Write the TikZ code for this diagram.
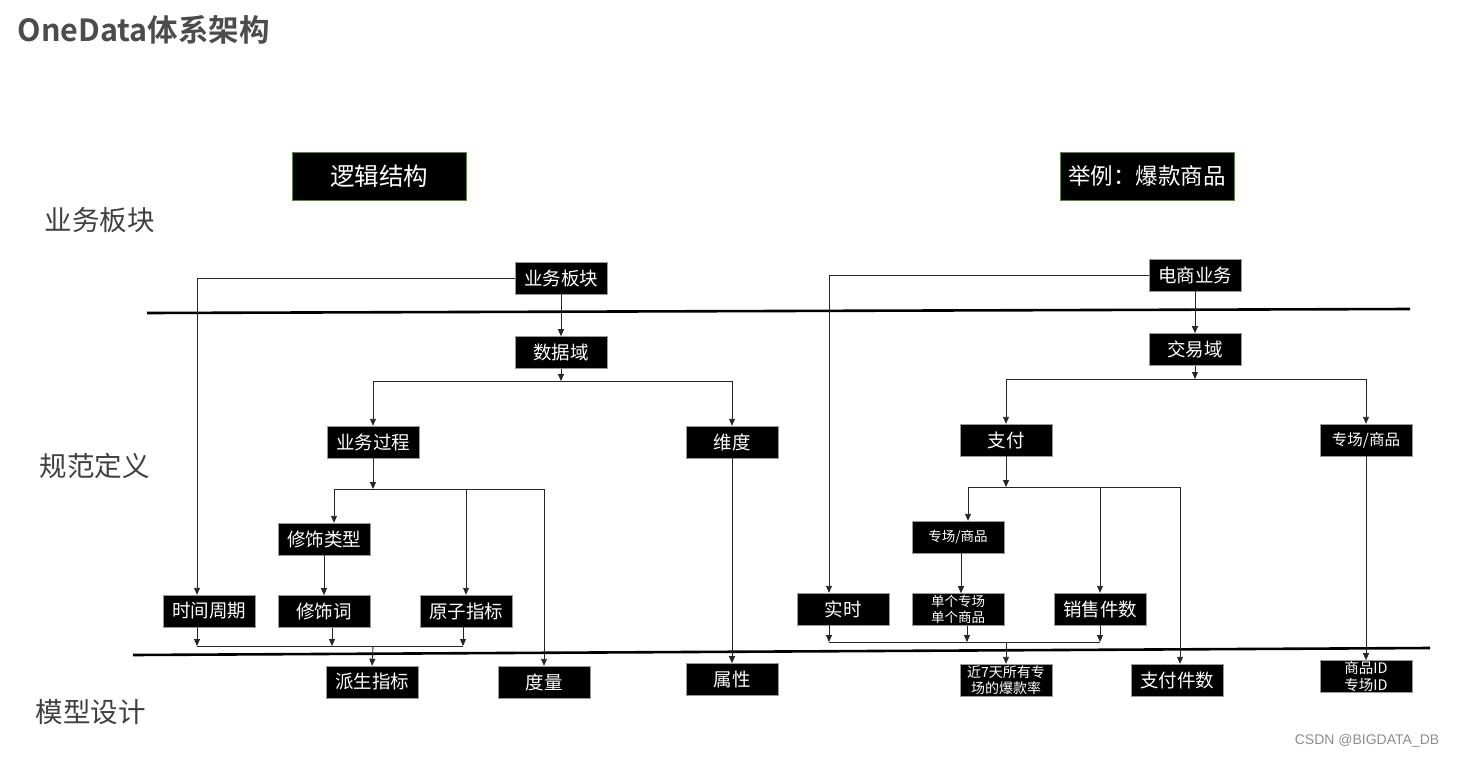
\documentclass[tikz,border=0pt]{standalone}
\usepackage{fontspec}
\setmainfont{Noto Sans CJK SC}[BoldFont={Noto Sans CJK SC Bold}]
\newfontfamily\latinsans{Liberation Sans}
\usepackage{tikz}
\usetikzlibrary{arrows.meta, positioning}
\definecolor{hdrgreen}{RGB}{95,135,60}

\begin{document}
\begin{tikzpicture}[x=1pt, y=-1pt,
    box/.style={fill=black, draw=black!40, text=white, minimum width=92pt, minimum height=32pt, inner sep=0pt, font=\fontsize{18.5}{20}\selectfont},
    small/.style={font=\fontsize{13.5}{15.5}\selectfont, align=center},
    hdr/.style={fill=black, draw=hdrgreen, line width=1pt, text=white, minimum width=174pt, minimum height=48pt, inner sep=0pt, font=\fontsize{22.5}{24}\selectfont},
    layer/.style={text=black!75, font=\fontsize{27.5}{29}\selectfont, anchor=west},
    divider/.style={line width=2.6pt},
    wire/.style={draw=black!85, line width=0.9pt},
    arr/.style={wire, -{Triangle[length=7pt,width=6pt]}}
]
\useasboundingbox (0,0) rectangle (1457,758);

% titles
\node[anchor=west, text=black!70, font=\bfseries\fontsize{30.5}{32}\selectfont] (title) at (14,30) {OneData体系架构};
\node[hdr, font=\fontsize{24.5}{26}\selectfont] (logic) at (379,176) {逻辑结构};
\node[hdr] (demo) at (1147,176) {举例：爆款商品};

\node[layer] (l1) at (41,220) {业务板块};
\node[layer] (l2) at (36,466) {规范定义};
\node[layer] (l3) at (32,712) {模型设计};

% layer dividers
\draw[divider] (147,313) -- (1410,309);
\draw[divider] (133,655) -- (1430,648);

% logical structure
\node[box] (ywbk) at (561,278) {业务板块};
\node[box] (sjy) [below=42pt of ywbk] {数据域};
\node[box] (ywgc) at (373,442) {业务过程};
\node[box] (wd) at (732,442) {维度};
\node[box] (xslx) at (324,539) {修饰类型};
\node[box] (sjzq) at (209,611) {时间周期};
\node[box] (xsc) [below=40pt of xslx] {修饰词};
\node[box] (yzzb) at (466,611) {原子指标};
\node[box] (pszb) at (372,682) {派生指标};
\node[box] (dl) at (544,682) {度量};
\node[box] (sx) [below=205pt of wd] {属性};

\coordinate (j1) at (561,381);
\coordinate (j2) at (373,489);
\coordinate (j3) at (373,646);

\draw[arr] (ywbk.west) -| ([xshift=-12pt]sjzq.north);
\draw[arr] (ywbk) -- (sjy);
\draw[arr] (sjy) -- (j1);
\draw[arr] (j1) -| (ywgc.north);
\draw[arr] (j1) -| (wd.north);
\draw[arr] (ywgc) -- (j2);
\draw[arr] (j2) -| ([xshift=10pt]xslx.north);
\draw[arr] (j2) -| (yzzb.north);
\draw[arr] (j2) -| (dl.north);
\draw[arr] (xslx) -- (xsc);
\draw[arr] (wd) -- (sx);
\draw[arr] ([xshift=-12pt]sjzq.south) -- ([xshift=-12pt]sjzq.south |- j3);
\draw[arr] ([xshift=8pt]xsc.south) -- ([xshift=8pt]xsc.south |- j3);
\draw[arr] ([xshift=-3pt]yzzb.south) -- ([xshift=-3pt]yzzb.south |- j3);
\draw[wire] ([xshift=-12pt]sjzq.south |- j3) -- ([xshift=-3pt]yzzb.south |- j3);
\draw[arr] (j3) -- (pszb.north);

% example
\node[box] (dsyw) at (1195,275) {电商业务};
\node[box] (jyy) [below=42pt of dsyw] {交易域};
\node[box] (zf) at (1006,440) {支付};
\node[box, font=\fontsize{15.5}{17}\selectfont] (zcsp) at (1366,440) {专场/商品};
\node[box, small] (zcsp2) at (958,537) {专场/商品};
\node[box] (ss) at (843,609) {实时};
\node[box, small] (dg) [below=40pt of zcsp2] {单个专场\\单个商品};
\node[box] (xsjs) at (1100,609) {销售件数};
\node[box, small, font=\fontsize{14}{16.5}\selectfont] (bkl) at (1006,680) {近7天所有专\\场的爆款率};
\node[box] (zfjs) at (1177,680) {支付件数};
\node[box, small, font=\fontsize{14.5}{17}\selectfont] (spid) [below=204pt of zcsp] {商品ID\\专场ID};

\coordinate (j4) at (1195,379);
\coordinate (j5) at (1006,487);
\coordinate (j6) at (1006,642);

\draw[arr] (dsyw.west) -| ([xshift=-14pt]ss.north);
\draw[arr] (dsyw) -- (jyy);
\draw[arr] (jyy) -- (j4);
\draw[arr] (j4) -| (zf.north);
\draw[arr] (j4) -| (zcsp.north);
\draw[arr] (zf) -- (j5);
\draw[arr] (j5) -| ([xshift=10pt]zcsp2.north);
\draw[arr] (j5) -| (xsjs.north);
\draw[arr] (j5) -| ([xshift=3pt]zfjs.north);
\draw[arr] ([xshift=3pt]zcsp2.south) -- ([xshift=3pt]dg.north);
\draw[arr] (zcsp) -- (spid);
\draw[arr] ([xshift=-14pt]ss.south) -- ([xshift=-14pt]ss.south |- j6);
\draw[arr] ([xshift=9pt]dg.south) -- ([xshift=9pt]dg.south |- j6);
\draw[arr] (xsjs.south) -- (xsjs.south |- j6);
\draw[wire] ([xshift=-14pt]ss.south |- j6) -- (xsjs.south |- j6);
\draw[arr] (j6) -- (bkl.north);

\node[text=black!45, font=\latinsans\fontsize{14}{16}\selectfont] (mark) at (1367,741) {CSDN @BIGDATA\_DB};
\end{tikzpicture}
\end{document}
